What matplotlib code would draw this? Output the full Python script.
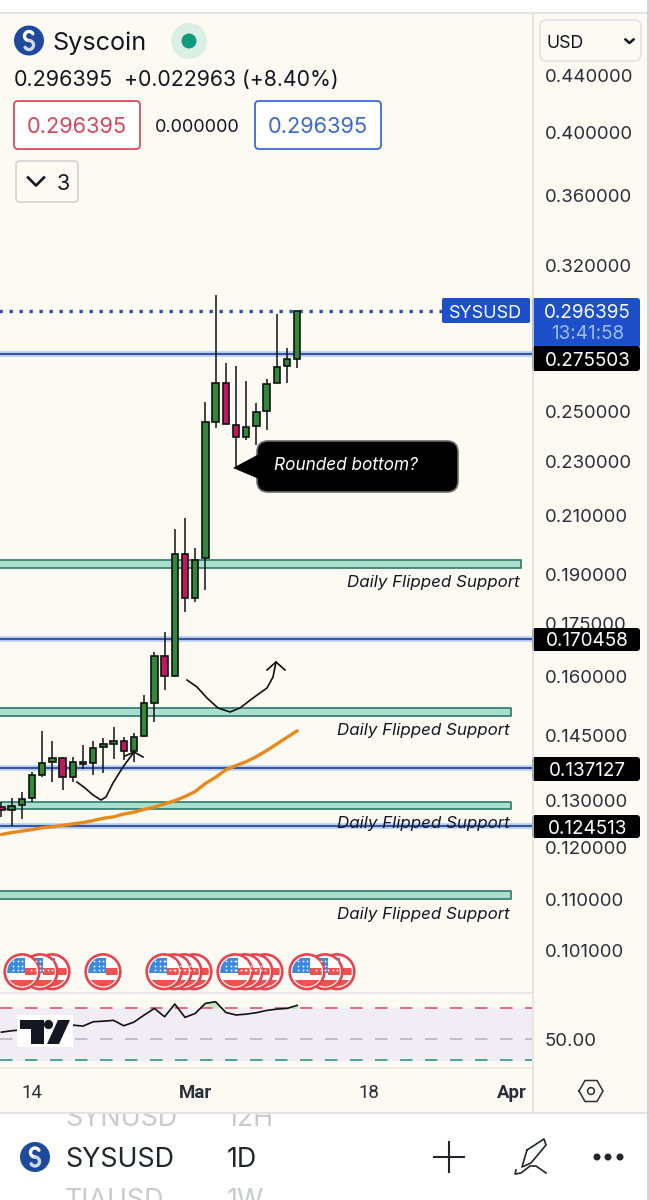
import matplotlib
matplotlib.use("Agg")
import matplotlib.pyplot as plt
import numpy as np
from matplotlib.patches import Circle, FancyBboxPatch, Polygon, Rectangle
from matplotlib.ticker import NullLocator

# days counted from Feb 14, one candle per day
days = np.arange(-3, 27)
opens = [.1286, .1278, .1289, .1305, .1356, .1387, .1395, .1351, .1382, .1384,
         .1421, .1429, .1436, .1413, .1449, .1532, .1658, .1602, .1968, .1828,
         .1953, .2458, .2624, .2445, .2395, .2441, .2505, .2624, .2700, .2734]
highs = [.1297, .1305, .1319, .1362, .1461, .1435, .1399, .1399, .1427, .1437,
         .1443, .1471, .1445, .1455, .1551, .1669, .1724, .2053, .2090, .1989,
         .2543, .3042, .2712, .2700, .2633, .2536, .2641, .2947, .2785, .2964]
lows = [.1264, .1245, .1259, .1297, .1351, .1341, .1323, .1341, .1370, .1356,
        .1361, .1394, .1390, .1387, .1447, .1484, .1565, .1600, .1784, .1816,
        .1852, .2431, .2449, .2273, .2384, .2364, .2424, .2624, .2622, .2692]
closes = [.1278, .1288, .1303, .1356, .1385, .1395, .1351, .1387, .1387, .1420,
          .1428, .1436, .1413, .1447, .1531, .1658, .1603, .1968, .1828, .1948,
          .2456, .2624, .2449, .2395, .2435, .2500, .2618, .2696, .2731, .296395]
ma_line = [.1227, .1231, .1234, .1237, .1241, .1243, .1246, .1249, .1252, .1256,
           .1261, .1264, .1270, .1274, .1280, .1285, .1292, .1299, .1308, .1319,
           .1337, .1351, .1368, .1378, .1387, .1399, .1413, .1429, .1445, .1461]
rsi = [54.0, 54.8, 55.4, 56.0, 56.4, 56.8, 57.2, 58.2, 57.6, 60.3,
       60.7, 61.2, 57.8, 60.1, 64.8, 69.5, 63.6, 72.8, 63.2, 65.9,
       73.3, 74.6, 66.6, 64.8, 65.4, 66.4, 68.0, 69.0, 69.5, 71.8]

last_price = 0.296395
levels = [0.275503, 0.170458, 0.137127, 0.124513]
zones_lo = [.1921, .1498, .1281, .1101]
zones_hi = [.1948, .1518, .1297, .1116]
zone_ends = [47.95, 47.0, 47.0, 47.0]
price_ticks = [.44, .40, .36, .32, .25, .23, .21, .19, .175, .16, .145, .13, .12, .11, .101]
time_ticks = [0, 16, 33, 47]
time_labels = ["14", "Mar", "18", "Apr"]

CREAM = "#fdfaf4"
UP = "#33873a"
DOWN = "#c2185b"
FONT = "Inter"

W, H = 649, 1200
PX = 72 / 100  # points in a pixel


def box(left, top, right, bottom):
    return [left / W, 1 - bottom / H, (right - left) / W, (bottom - top) / H]


fig = plt.figure(figsize=(W / 100, H / 100), dpi=100, facecolor="white")
plt.rcParams["font.family"] = [FONT, "DejaVu Sans"]

# price pane
ax = fig.add_axes(box(0, 14, 532, 993), facecolor=CREAM)
ax.set_yscale("log")
ax.set_xlim(-3.137, 49.02)
ax.set_ylim(0.09396, 0.4884)
for s in ax.spines.values():
    s.set_visible(False)
ax.xaxis.set_visible(False)
ax.yaxis.tick_right()
ax.yaxis.set_minor_locator(NullLocator())
ax.set_yticks(price_ticks)
ax.set_yticklabels([f"{p:.6f}" for p in price_ticks], fontsize=13.4, color="#2a2e39")
ax.tick_params(axis="y", length=0, pad=12.5 * PX)

for lo, hi, end in zip(zones_lo, zones_hi, zone_ends):
    ax.fill_between([-4, end], lo, hi, facecolor="#aadfce", edgecolor="#2c7a68", linewidth=1.2, zorder=1)
for p in levels:
    ax.axhline(p, color="#b5cbf2", lw=4.0, zorder=1.5)
    ax.axhline(p, color="#1f3f8c", lw=1.2, zorder=1.6)
ax.plot([-4, 41], [last_price, last_price], color="#2a4fb5", lw=2.4, linestyle=(0, (1, 2)), zorder=2)

ax.plot(days, ma_line, color="#e8891c", lw=2.4, solid_capstyle="round", zorder=2.5)

ax.vlines(days, lows, highs, color="#111111", lw=1.1, zorder=3)
tops = np.maximum(opens, closes)
bots = np.minimum(opens, closes)
colors = [UP if c >= o else DOWN for o, c in zip(opens, closes)]
ax.bar(days, tops - bots, bottom=bots, width=0.62, color=colors, edgecolor="#111111", linewidth=1.2, zorder=4)

# rsi pane
rx = fig.add_axes(box(0, 994, 532, 1068), facecolor=CREAM)
rx.set_yscale("log")
rx.set_xlim(-3.137, 49.02)
rx.set_ylim(36.9, 81)
for s in rx.spines.values():
    s.set_visible(False)
rx.axhspan(40, 70, color="#f1edf4", zorder=0)
rx.axhline(70, color="#e0566a", lw=1.2, linestyle=(0, (7.5, 7.5)))
rx.axhline(50, color="#b9b6bb", lw=1.2, linestyle=(0, (7.5, 7.5)))
rx.axhline(40, color="#2e9a82", lw=1.2, linestyle=(0, (7.5, 7.5)))
rx.fill_between(days, 70, rsi, where=np.array(rsi) > 70, interpolate=True, color="#bfe3c4", alpha=0.8, zorder=1)
rx.plot(days, rsi, color="#111111", lw=1.2, zorder=2)
rx.yaxis.tick_right()
rx.yaxis.set_minor_locator(NullLocator())
rx.set_yticks([50])
rx.set_yticklabels(["50.00"], fontsize=13.4, color="#2a2e39")
rx.tick_params(axis="y", length=0, pad=12.5 * PX)
rx.set_xticks(time_ticks)
rx.set_xticklabels(time_labels, fontsize=13.4, family=["Roboto"], color="#2a2e39")
rx.tick_params(axis="x", length=0, pad=16 * PX)
for lab in rx.get_xticklabels():
    if lab.get_text() in ("Mar", "Apr"):
        lab.set_fontweight("bold")

# everything else sits on a pixel overlay
ov = fig.add_axes([0, 0, 1, 1], facecolor="none", zorder=10)
ov.set_xlim(0, W)
ov.set_ylim(H, 0)
ov.axis("off")

# cream behind right scale and time scale
fig.patches.append(Rectangle((532 / W, 1 - 1113 / H), (W - 533) / W, (1113 - 14) / H,
                             transform=fig.transFigure, facecolor=CREAM, edgecolor="none", zorder=-5))
fig.patches.append(Rectangle((0, 1 - 1113 / H), 533 / W, 45 / H,
                             transform=fig.transFigure, facecolor=CREAM, edgecolor="none", zorder=-5))
for xs, ys, c in [([0, 649], [13, 13], "#dcdcdc"), ([0, 649], [1113, 1113], "#dcdde0"),
                  ([532.5, 532.5], [14, 1113], "#e3e0da"), ([0, 532], [993, 993], "#e4e2ea"),
                  ([0, 532], [1068, 1068], "#e9e7e2"), ([647.5, 647.5], [0, 1200], "#c9c9c9")]:
    ov.plot(xs, ys, color=c, lw=1.1)


def rbox(left, top, right, bottom, fc, ec="none", lw=1.0, r=4):
    ov.add_patch(FancyBboxPatch((left + r, top + r), right - left - 2 * r, bottom - top - 2 * r,
                                boxstyle=f"round,pad={r},rounding_size={r}", facecolor=fc, edgecolor=ec, linewidth=lw))


def label(x, y, s, size, color="#131722", ha="left", **kw):
    return ov.text(x, y, s, fontsize=size, color=color, ha=ha, va="center_baseline", **kw)


def syscoin_logo(cx, cy, r):
    ov.add_patch(Circle((cx, cy), r, facecolor="#1f4a9b", edgecolor="none"))
    a = 0.3 * r
    t1 = np.radians(np.linspace(30, 270, 24))
    t2 = np.radians(np.linspace(90, -150, 24))
    ov.plot(cx + a * np.cos(t1), cy - a - a * np.sin(t1), color="white", lw=2.4, solid_capstyle="round")
    ov.plot(cx + a * np.cos(t2), cy + a - a * np.sin(t2), color="#cfd8ea", lw=2.4, solid_capstyle="round")


# header
syscoin_logo(29, 40.5, 15)
label(52, 41, "Syscoin", 18.2)
ov.add_patch(Circle((189, 41), 18, facecolor="#dcefe6", edgecolor="none"))
ov.add_patch(Circle((189, 41), 7.5, facecolor="#119b7e", edgecolor="none"))
label(14, 78, "0.296395", 15.5)
label(124, 78, "+0.022963 (+8.40%)", 15.3)
rbox(14, 101, 140, 149, "white", "#de4a5c", 1.3)
label(77, 125, "0.296395", 15.7, color="#d9465a", ha="center")
label(197.5, 125, "0.000000", 13, ha="center")
rbox(255, 101, 381, 149, "white", "#3c6bd6", 1.3)
label(318, 125, "0.296395", 15.7, color="#3c68cf", ha="center")
rbox(16, 161, 78, 202, CREAM, "#d6d6d8", 1.3)
ov.plot([28, 36, 44], [177.5, 185.5, 177.5], color="#131722", lw=1.9)
label(57, 182, "3", 15.5)

# USD selector
rbox(540, 20, 641, 61, CREAM, "#e6e5ea", 1.4, r=7)
label(546, 41, "USD", 12.8)
ov.plot([625.5, 629.5, 633.5], [39.5, 43, 39.5], color="#131722", lw=1.8)

# price tags
rbox(442, 298, 530, 323, "#1c4fc9", r=2)
label(486, 311, "SYSUSD", 13, color="white", ha="center")
rbox(532, 298, 640, 348, "#1c4fc9", r=3)
label(587.5, 311, "0.296395", 13.6, color="white", ha="center")
label(587.5, 332, "13:41:58", 13.6, color="#9dbcf5", ha="center")
for top, bottom, p in [(346, 371, .275503), (628, 651, .170458), (757, 781, .137127), (815, 838, .124513)]:
    rbox(532, top, 640, bottom, "black", r=3)
    label(587.5, (top + bottom) / 2, f"{p:.6f}", 13.6, color="white", ha="center")

# callout
rbox(257, 441, 458, 492, "black", "#6a6a6a", 1.2, r=11)
ov.add_patch(Polygon([(233, 468), (259, 454), (259, 479)], facecolor="black", edgecolor="none"))
label(274.5, 464, "Rounded bottom?", 12.4, color="white", style="italic")
for x, y in [(520, 581), (510, 729), (510, 822), (510, 913)]:
    label(x, y, "Daily Flipped Support", 12.2, ha="right", style="italic")

# hand drawn curves
sketch1_x = [77, 85, 93, 101, 106, 113, 123, 134]
sketch1_y = [782, 788, 795, 800, 797, 783, 767, 752]
sketch2_x = [187, 197, 207, 218, 230, 240, 253, 267, 273, 276]
sketch2_y = [680, 687, 698, 708, 712, 708, 698, 688, 677, 662]
ov.plot(sketch1_x, sketch1_y, color="#111111", lw=1.2)
ov.plot([125, 134, 143], [756, 752, 757], color="#111111", lw=1.2)
ov.plot(sketch2_x, sketch2_y, color="#111111", lw=1.2)
ov.plot([267, 276, 285], [670, 662, 670], color="#111111", lw=1.2)

# economic event flags, the back ones first
flag_groups = [[52, 40, 22], [103], [194, 184, 174, 164], [265, 255, 245, 235], [337, 325, 307]]
for group in flag_groups:
    for fx in group:
        ov.add_patch(Circle((fx, 971.7), 17.3, facecolor="white", edgecolor="#e8444f", linewidth=1.9))
        clip = Circle((fx, 971.7), 14.8, transform=ov.transData)
        for rx0, ry0, rw, rh, col in [(fx + 3, 968, 12, 6.5, "#ef5350"), (fx - 15, 979.5, 30, 7, "#ef5350"),
                                      (fx - 15, 958, 18, 15, "#3c8ae0")]:
            rect = Rectangle((rx0, ry0), rw, rh, facecolor=col, edgecolor="none")
            ov.add_patch(rect)
            rect.set_clip_path(clip)
        for sx in (fx - 9, fx - 4.5, fx):
            ov.plot([sx, sx, sx], [961, 965.5, 970], ls="none", marker="o", ms=1.3, color="white", mew=0)

# tradingview mark
ov.add_patch(Rectangle((17, 1015), 56, 32, facecolor="white", edgecolor="none"))
ov.add_patch(Polygon([(20, 1020), (44, 1020), (44, 1044), (31, 1044), (31, 1029), (20, 1029)], facecolor="#131722"))
ov.add_patch(Circle((48.5, 1024.5), 4.6, facecolor="#131722"))
ov.add_patch(Polygon([(58, 1020), (70, 1020), (59, 1044), (47, 1044)], facecolor="#131722"))

# hexagon button
hx = [579, 585, 597, 603, 597, 585, 579]
hy = [1091, 1080.5, 1080.5, 1091, 1101.5, 1101.5, 1091]
ov.plot(hx, hy, color="#2a2e39", lw=1.1)
ov.add_patch(Circle((591, 1091), 3.4, facecolor="none", edgecolor="#2a2e39", linewidth=1.1))

# bottom bar, the list above and below is half scrolled out of view
strip = Rectangle((0, 1114), W, 86, transform=ov.transData)
for s, x in [("SYNUSD", 65), ("12H", 227)]:
    t = label(x, 1116, s, 19.3, color="#c9cacd")
    t.set_clip_on(True)
    t.set_clip_path(strip)
syscoin_logo(35, 1157, 15)
label(65, 1157, "SYSUSD", 19.3, color="#22252c")
label(227, 1157, "1D", 19.3, color="#22252c")
label(65, 1198, "TIAUSD", 19.3, color="#c9cacd")
label(227, 1198, "1W", 19.3, color="#c9cacd")
ov.plot([434, 464], [1157, 1157], color="#22252c", lw=1.5)
ov.plot([449, 449], [1142, 1172], color="#22252c", lw=1.5)
ov.plot([527, 544, 546, 531, 522, 527], [1150, 1139, 1145, 1163, 1167, 1150], color="#22252c", lw=1.2)
ov.plot([516, 515, 521, 530, 536, 546], [1170, 1174, 1173, 1166, 1166, 1173], color="#22252c", lw=1.2)
for dx in [597, 608, 620]:
    ov.add_patch(Circle((dx, 1157), 3.5, facecolor="#22252c", edgecolor="none"))

fig.savefig("out.png", dpi=100)
